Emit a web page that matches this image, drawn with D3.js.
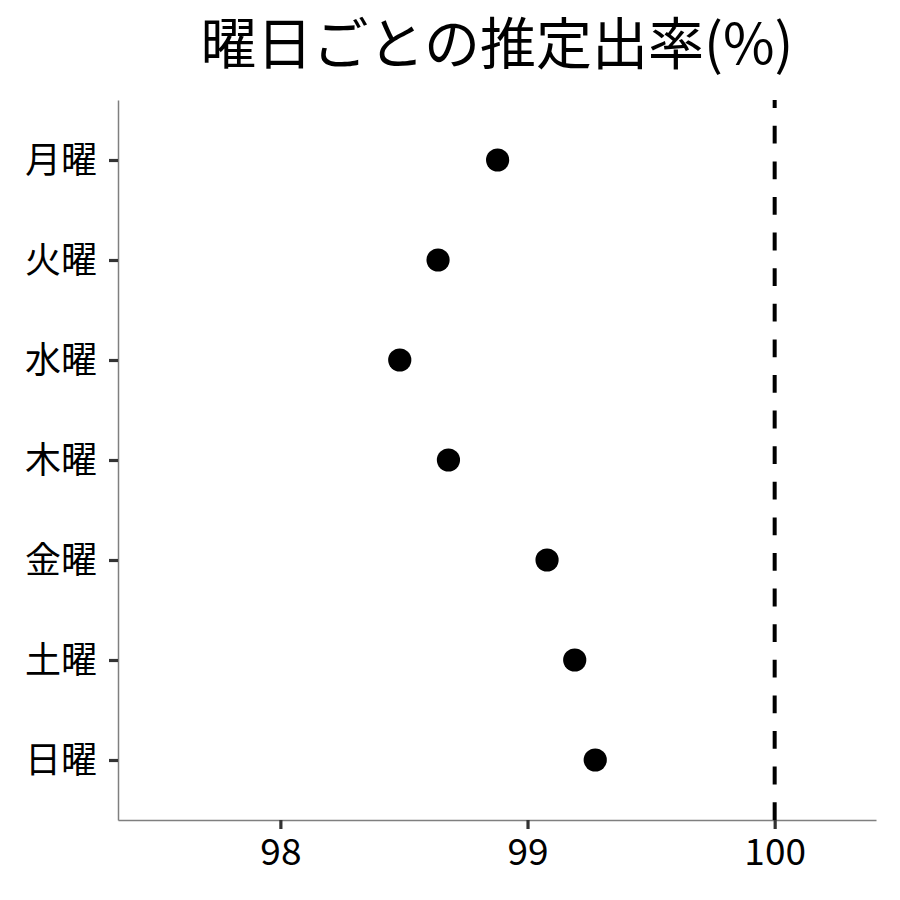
<!DOCTYPE html>
<html>
<head>
<meta charset="utf-8">
<script src="https://cdn.jsdelivr.net/npm/d3@7"></script>
<style>
  body { margin: 0; background: #fff; }
  text { font-family: "Noto Sans CJK JP", "Noto Sans", sans-serif; }
</style>
</head>
<body>
<div id="chart"></div>
<script>
// data
const days = ["月曜", "火曜", "水曜", "木曜", "金曜", "土曜", "日曜"];
const rates = [98.879, 98.638, 98.483, 98.680, 99.079, 99.191, 99.274];
const xTicks = [98, 99, 100];
const refLine = 100;
const title = "曜日ごとの推定出率(%)";

const width = 900;
const height = 900;
const margin = { top: 100, right: 24, bottom: 80, left: 118 };

const svg = d3.select("#chart")
    .append("svg")
    .attr("width", width)
    .attr("height", height);

const x = d3.scaleLinear()
    .domain([97.343, 100.41])
    .range([margin.left, width - margin.right]);

const y = d3.scalePoint()
    .domain(days)
    .range([margin.top, height - margin.bottom])
    .padding(0.6);

// title
svg.append("text")
    .attr("x", (margin.left + width - margin.right) / 2)
    .attr("y", 64)
    .attr("text-anchor", "middle")
    .style("font-size", "56px")
    .style("fill", "#000")
    .text(title);

// y axis
const yAxis = svg.append("g")
    .attr("transform", `translate(${margin.left},0)`)
    .call(d3.axisLeft(y).tickSize(9).tickSizeOuter(0).tickPadding(12));

// x axis
const xAxis = svg.append("g")
    .attr("transform", `translate(0,${height - margin.bottom})`)
    .call(d3.axisBottom(x).tickValues(xTicks).tickFormat(d3.format("d"))
        .tickSize(9).tickSizeOuter(0).tickPadding(10));

[yAxis, xAxis].forEach(g => {
    g.select(".domain").attr("stroke", "#7f7f7f").attr("stroke-width", 1.5);
    g.selectAll(".tick line").attr("stroke", "#333").attr("stroke-width", 3.2);
    g.selectAll(".tick text").attr("fill", "#000");
});
yAxis.selectAll(".tick text").style("font-size", "36px").attr("dy", "0.36em");
xAxis.selectAll(".tick text").style("font-size", "37px");

// reference line at 100%
svg.append("line")
    .attr("x1", x(refLine))
    .attr("x2", x(refLine))
    .attr("y1", height - margin.bottom)
    .attr("y2", margin.top)
    .attr("stroke", "#000")
    .attr("stroke-width", 4)
    .attr("stroke-dasharray", "17.8 17.8");

// points
svg.selectAll(".dot")
    .data(days.map((d, i) => ({ day: d, rate: rates[i] })))
    .enter().append("circle")
    .attr("class", "dot")
    .attr("cx", d => x(d.rate))
    .attr("cy", d => y(d.day))
    .attr("r", 11.6)
    .attr("fill", "#000");
</script>
</body>
</html>
